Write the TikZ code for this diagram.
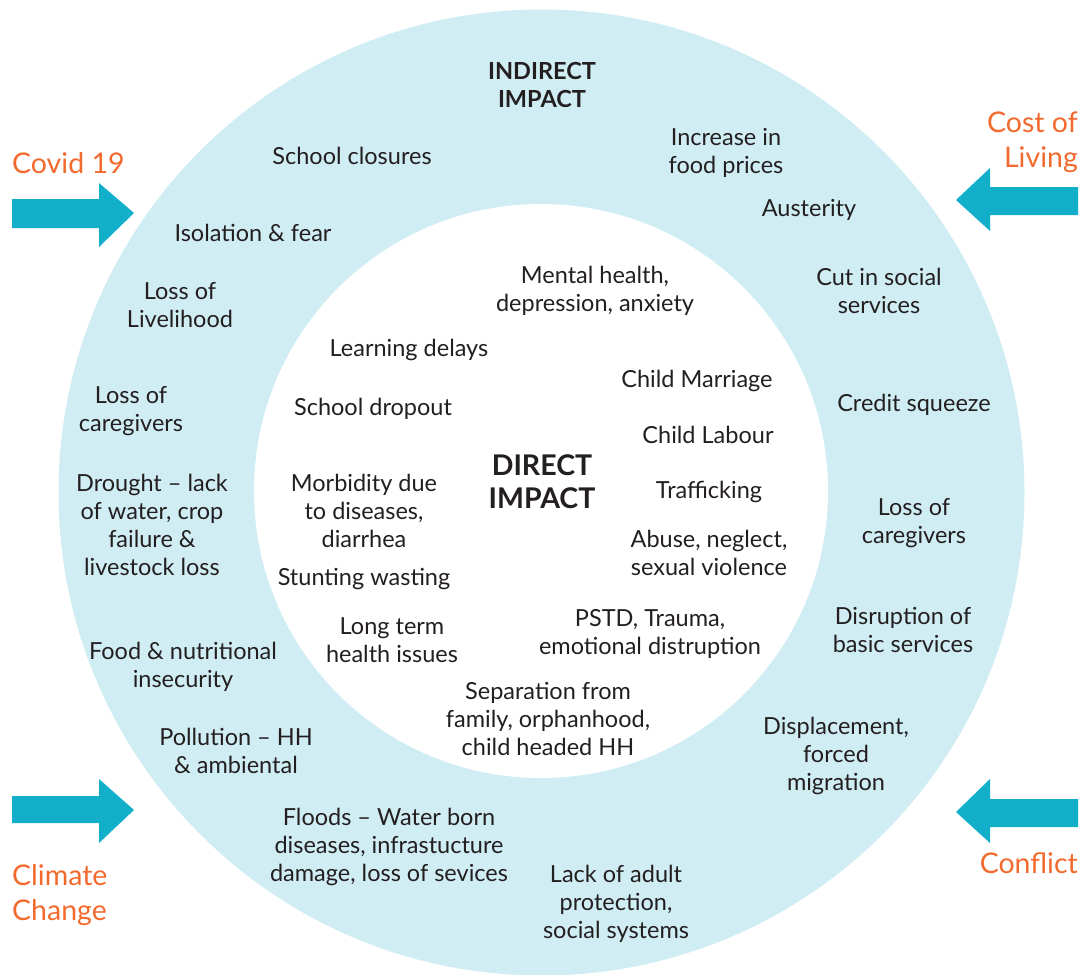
\documentclass[tikz,border=0pt]{standalone}
\usepackage{fontspec}
\setmainfont{Lato}
\definecolor{ring}{HTML}{D0EDF3}
\definecolor{arr}{HTML}{12AFCB}
\definecolor{org}{HTML}{F26A2E}
\definecolor{txt}{HTML}{231F20}
\begin{document}
\begin{tikzpicture}[x=1pt,y=-1pt,
  lbl/.style={align=center, text=txt, font=\fontsize{23.5}{28}\selectfont, inner sep=0pt, yshift=-1.5pt},
  ttl/.style={align=center, text=txt, font=\bfseries\fontsize{23.5}{28}\selectfont, inner sep=0pt, yshift=-1pt},
  bigttl/.style={align=center, text=txt, font=\bfseries\fontsize{28.5}{33}\selectfont, inner sep=0pt, yshift=-1pt},
  cause/.style={text=org, font=\fontsize{28.5}{35}\selectfont, inner sep=0pt, yshift=-2pt},
  bigarrow/.style={fill=arr, draw=none}]
\useasboundingbox (0,0) rectangle (1081,974);
% rings
\fill[ring] (541.5,492.5) circle (483pt);
\fill[white] (541,491) circle (287pt);
% arrows
\fill[bigarrow] (12,199) -- (99,199) -- (99,183) -- (134,213) -- (99,247) -- (99,228) -- (12,228) -- cycle;
\fill[bigarrow] (1078,187) -- (990,187) -- (990,168) -- (956,200) -- (990,231) -- (990,215) -- (1078,215) -- cycle;
\fill[bigarrow] (12,796) -- (99,796) -- (99,779) -- (134,810) -- (99,843) -- (99,823) -- (12,823) -- cycle;
\fill[bigarrow] (1078,799) -- (990,799) -- (990,779) -- (956,812) -- (990,843) -- (990,827) -- (1078,827) -- cycle;
% causes
\node[cause, anchor=west] (covid) at (12,161) {Covid 19};
\node[cause, anchor=east, align=right] (cost) at (1078,140) {Cost of\\Living};
\node[cause, anchor=west, align=left] (climate) at (12,893) {Climate\\Change};
\node[cause, anchor=east] (conflict) at (1078,861) {Conflict};
% titles
\node[ttl] (indirect) at (542,84) {INDIRECT\\IMPACT};
\node[bigttl] (direct) at (542,481) {DIRECT\\IMPACT};
% outer ring
\node[lbl] (o1) at (352,154) {School closures};
\node[lbl] (o2) at (726,151) {Increase in\\food prices};
\node[lbl] (o3) at (809,208) {Austerity};
\node[lbl] (o4) at (253,231) {Isolation \& fear};
\node[lbl] (o5) at (180,304) {Loss of\\Livelihood};
\node[lbl] (o6) at (879,289) {Cut in social\\services};
\node[lbl] (o7) at (914,403) {Credit squeeze};
\node[lbl] (o8) at (131,410) {Loss of\\caregivers};
\node[lbl] (o9) at (152,523) {Drought – lack\\of water, crop\\failure \&\\livestock loss};
\node[lbl] (o10) at (914,522) {Loss of\\caregivers};
\node[lbl] (o11) at (903,628) {Disruption of\\basic services};
\node[lbl] (o12) at (183,665) {Food \& nutritional\\insecurity};
\node[lbl] (o13) at (236,749) {Pollution – HH\\\& ambiental};
\node[lbl] (o14) at (836,754) {Displacement,\\forced\\migration};
\node[lbl] (o15) at (389,845) {Floods – Water born\\diseases, infrastucture\\damage, loss of sevices};
\node[lbl] (o16) at (616,902) {Lack of adult\\protection,\\social systems};
% inner
\node[lbl] (i1) at (595,289) {Mental health,\\depression, anxiety};
\node[lbl] (i2) at (409,348) {Learning delays};
\node[lbl] (i3) at (697,379) {Child Marriage};
\node[lbl] (i4) at (373,407) {School dropout};
\node[lbl] (i5) at (708,433) {Child Labour};
\node[lbl] (i6) at (709,490) {Trafficking};
\node[lbl] (i7) at (364,509) {Morbidity due\\to diseases,\\diarrhea};
\node[lbl] (i8) at (709,551) {Abuse, neglect,\\sexual violence};
\node[lbl] (i9) at (364,578) {Stunting wasting};
\node[lbl] (i10) at (650,632) {PSTD, Trauma,\\emotional distruption};
\node[lbl] (i11) at (392,639) {Long term\\health issues};
\node[lbl] (i12) at (548,717) {Separation from\\family, orphanhood,\\child headed HH};
\end{tikzpicture}
\end{document}
